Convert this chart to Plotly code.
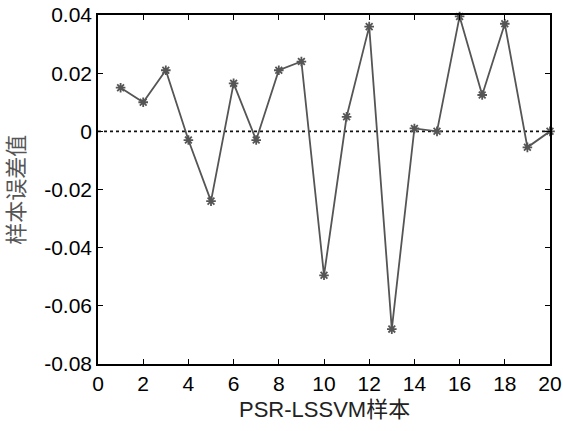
import plotly.graph_objects as go

samples = list(range(1, 21))
errors = [0.015, 0.010, 0.021, -0.003, -0.024, 0.0165, -0.003, 0.021, 0.024, -0.0495,
          0.005, 0.036, -0.068, 0.001, 0.0, 0.0395, 0.0125, 0.037, -0.0055, 0.0]
y_ticks = [0.04, 0.02, 0, -0.02, -0.04, -0.06, -0.08]
y_tick_labels = ["0.04", "0.02", "0", "-0.02", "-0.04", "-0.06", "-0.08"]
x_ticks = list(range(0, 21, 2))
zero_x = [0, 20.1]
zero_y = [0, 0]

font_main = "Liberation Sans, Arial, sans-serif"
cjk = "Liberation Sans, Noto Sans CJK SC, sans-serif"

fig = go.Figure()
fig.add_trace(go.Scatter(x=zero_x, y=zero_y, mode="lines",
                         line=dict(color="#111111", width=1.6, dash="dot"),
                         hoverinfo="skip", showlegend=False, cliponaxis=False))
fig.add_trace(go.Scatter(x=samples, y=errors, mode="lines+markers",
                         line=dict(color="#555555", width=1.8),
                         marker=dict(symbol="asterisk-open", size=8,
                                     line=dict(color="#222222", width=1.8)),
                         showlegend=False, cliponaxis=False))

axis_common = dict(showgrid=False, zeroline=False, showline=True, linecolor="black",
                   linewidth=1.5, mirror="ticks", ticks="inside", ticklen=5,
                   tickcolor="black", tickwidth=1.2, automargin=False,
                   tickfont=dict(family=font_main, size=21, color="black"))

fig.update_layout(
    width=563, height=431,
    margin=dict(l=98, r=13, t=15, b=67, autoexpand=False),
    paper_bgcolor="white", plot_bgcolor="white",
    xaxis=dict(range=[0, 20], tickvals=x_ticks, **axis_common),
    yaxis=dict(range=[-0.08, 0.04], tickvals=y_ticks, ticktext=y_tick_labels, **axis_common),
    annotations=[
        dict(text="PSR-LSSVM样本", xref="paper", yref="paper", x=0.5, y=-0.09,
             xanchor="center", yanchor="top", showarrow=False,
             font=dict(family=cjk, size=22, color="#222222")),
        dict(text="样本误差值", xref="paper", yref="paper", x=-0.181, y=0.5,
             xanchor="center", yanchor="middle", showarrow=False, textangle=-90,
             font=dict(family=cjk, size=22, color="#555555")),
    ],
)

fig.write_html("out.html", config={"displayModeBar": False},
               post_script="document.body.style.margin='0px';document.body.style.overflow='hidden';")
